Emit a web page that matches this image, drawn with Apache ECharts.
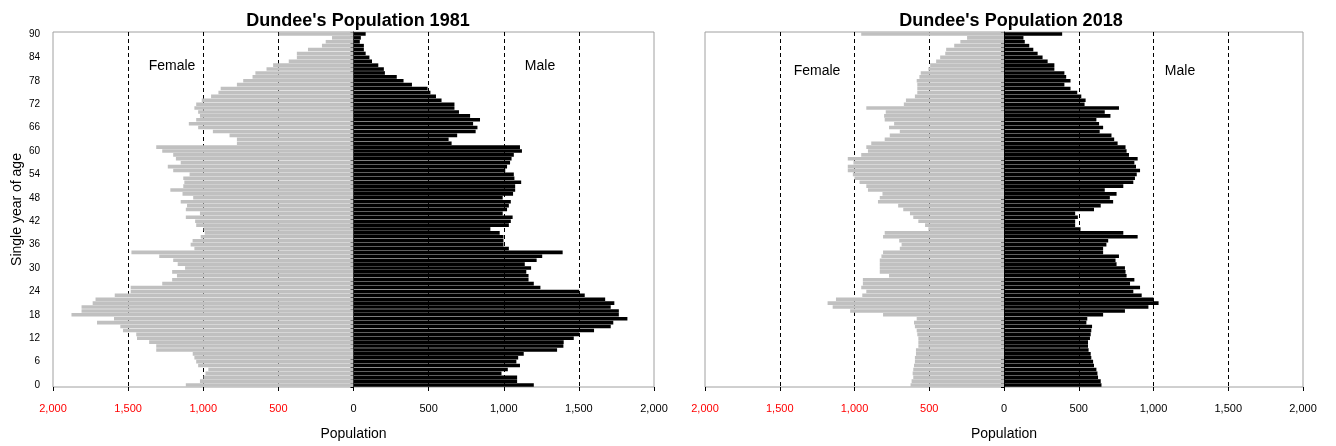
<!DOCTYPE html>
<html>
<head>
<meta charset="utf-8">
<title>Dundee's Population</title>
<script src="https://cdn.jsdelivr.net/npm/echarts@6/dist/echarts.min.js"></script>
<style>
  html, body { margin: 0; padding: 0; background: #fff; }
  #chart { width: 1336px; height: 446px; }
</style>
</head>
<body>
<div id="chart"></div>
<script>
// ages 0..90 (90 = 90 and over)
var ages = []
for (var a = 0; a <= 90; a++) ages.push(String(a))

var female1981 = [
  1116, 1022, 998, 985, 966, 1034, 1047, 1059, 1070, 1313,
  1313, 1360, 1441, 1446, 1534, 1552, 1707, 1594, 1877, 1810,
  1810, 1736, 1717, 1589, 1483, 1483, 1273, 1207, 1175, 1207,
  1121, 1170, 1200, 1293, 1478, 1059, 1084, 1071, 1017, 990,
  998, 1047, 1054, 1116, 1022, 1116, 1108, 1150, 1067, 1138,
  1219, 1133, 1126, 1133, 1091, 1200, 1236, 1150, 1182, 1200,
  1273, 1313, 776, 776, 825, 936, 1034, 1096, 1047, 1022,
  1034, 1059, 1047, 1010, 948, 899, 884, 776, 734, 672,
  653, 579, 535, 431, 377, 377, 303, 210, 185, 143,
  497
]
var male1981 = [
  1200, 1089, 1089, 985, 1027, 1108, 1084, 1096, 1133, 1355,
  1397, 1399, 1466, 1502, 1601, 1712, 1729, 1823, 1766, 1766,
  1712, 1736, 1675, 1539, 1502, 1244, 1200, 1165, 1165, 1150,
  1182, 1140, 1219, 1256, 1392, 1034, 998, 998, 998, 973,
  911, 1034, 1047, 1059, 993, 1022, 1034, 1047, 993, 1062,
  1076, 1076, 1116, 1071, 1067, 1010, 1022, 1042, 1052, 1067,
  1121, 1108, 653, 633, 690, 813, 825, 796, 842, 776,
  702, 672, 672, 586, 549, 512, 493, 389, 333, 288,
  209, 202, 165, 123, 106, 81, 69, 69, 42, 49,
  81
]
var female2018 = [
  625, 618, 607, 611, 607, 602, 596, 596, 589, 589,
  573, 573, 573, 580, 584, 596, 602, 584, 809, 1029,
  1146, 1180, 1124, 948, 921, 955, 944, 944, 769, 831,
  831, 831, 831, 820, 809, 697, 685, 701, 809, 798,
  506, 528, 573, 607, 629, 674, 708, 843, 831, 813,
  910, 921, 966, 1000, 1011, 1045, 1045, 1007, 1045, 955,
  910, 921, 888, 798, 764, 697, 769, 735, 798, 802,
  791, 921, 670, 656, 596, 580, 580, 580, 584, 566,
  557, 506, 494, 454, 427, 393, 387, 333, 292, 247,
  955
]
var male2018 = [
  652, 647, 629, 625, 618, 602, 596, 584, 580, 566,
  562, 562, 575, 580, 584, 589, 551, 557, 663, 809,
  966, 1034, 1000, 921, 865, 910, 843, 872, 820, 813,
  809, 753, 746, 769, 663, 663, 685, 697, 894, 798,
  512, 476, 476, 494, 476, 602, 647, 730, 708, 753,
  674, 798, 865, 876, 888, 910, 883, 872, 894, 836,
  820, 813, 760, 737, 719, 640, 663, 636, 618, 712,
  674, 769, 539, 546, 517, 490, 445, 404, 445, 416,
  404, 337, 337, 292, 258, 225, 196, 169, 139, 130,
  389
]

var FONT = 'Liberation Sans, Arial, sans-serif'

function negate(arr) {
  return arr.map(function (v) { return -v })
}

function popLabel(v) {
  var s = Math.abs(v).toLocaleString('en-US')
  return v < 0 ? '{r|' + s + '}' : s
}

function makeXAxis(idx) {
  return {
    type: 'value',
    gridIndex: idx,
    min: -2000,
    max: 2000,
    interval: 500,
    name: 'Population',
    nameLocation: 'middle',
    nameGap: 40,
    nameTextStyle: { color: '#000', fontSize: 14, fontFamily: FONT },
    axisLine: { onZero: false, lineStyle: { color: '#000', width: 1 } },
    axisTick: { show: true, length: 4, lineStyle: { color: '#000' } },
    axisLabel: {
      formatter: popLabel,
      color: '#000',
      fontSize: 11,
      fontFamily: FONT,
      margin: 16,
      rich: { r: { color: '#ff0000', fontSize: 11, fontFamily: FONT } }
    },
    splitLine: {
      show: true,
      showMinLine: false,
      showMaxLine: false,
      lineStyle: { color: '#000', type: [4, 3], width: 1 }
    }
  }
}

function makeAgeAxis(idx, withLabels) {
  return {
    type: 'category',
    gridIndex: idx,
    data: ages,
    name: withLabels ? 'Single year of age' : '',
    nameLocation: 'middle',
    nameGap: 29,
    nameRotate: 90,
    nameTextStyle: { color: '#000', fontSize: 14, fontFamily: FONT },
    axisLine: { show: false, onZero: false },
    axisTick: { show: false },
    axisLabel: {
      show: withLabels,
      interval: 5,
      color: '#000',
      fontSize: 10,
      fontFamily: FONT,
      margin: 13
    }
  }
}

// axis line in the middle, at zero
function makeCentreAxis(idx) {
  return {
    type: 'category',
    gridIndex: idx,
    data: ages,
    position: 'left',
    axisLine: { show: true, onZero: true, lineStyle: { color: '#000', width: 1 } },
    axisTick: { show: true, interval: 0, length: 3, lineStyle: { color: '#000' } },
    axisLabel: { show: false },
    splitLine: { show: false }
  }
}

function barSeries(xIdx, yIdx, data, color) {
  return {
    type: 'bar',
    xAxisIndex: xIdx,
    yAxisIndex: yIdx,
    data: data,
    barWidth: '92%',
    barGap: '-100%',
    itemStyle: { color: color },
    silent: true
  }
}

function textItem(x, y, txt) {
  return {
    type: 'text',
    x: x,
    y: y,
    style: {
      text: txt,
      fill: '#000',
      font: '14px ' + FONT,
      align: 'center',
      verticalAlign: 'middle'
    }
  }
}

var chart = echarts.init(document.getElementById('chart'))

chart.setOption({
  animation: false,
  backgroundColor: '#fff',
  title: [
    {
      text: "Dundee's Population 1981",
      left: 353,
      top: 7,
      textAlign: 'center',
      textStyle: { color: '#000', fontSize: 18, fontWeight: 'bold', fontFamily: FONT }
    },
    {
      text: "Dundee's Population 2018",
      left: 1006,
      top: 7,
      textAlign: 'center',
      textStyle: { color: '#000', fontSize: 18, fontWeight: 'bold', fontFamily: FONT }
    }
  ],
  grid: [
    { left: 53, right: 682, top: 32, bottom: 58, show: true, borderColor: '#a0a0a0', borderWidth: 1 },
    { left: 705, right: 33, top: 32, bottom: 58, show: true, borderColor: '#a0a0a0', borderWidth: 1 }
  ],
  xAxis: [makeXAxis(0), makeXAxis(1)],
  yAxis: [
    makeAgeAxis(0, true),
    makeCentreAxis(0),
    makeAgeAxis(1, false),
    makeCentreAxis(1)
  ],
  series: [
    barSeries(0, 0, negate(female1981), '#c0c0c0'),
    barSeries(0, 0, male1981, '#000000'),
    barSeries(1, 2, negate(female2018), '#c0c0c0'),
    barSeries(1, 2, male2018, '#000000')
  ],
  graphic: [
    textItem(172, 66, 'Female'),
    textItem(540, 66, 'Male'),
    textItem(817, 71, 'Female'),
    textItem(1180, 71, 'Male')
  ]
})
</script>
</body>
</html>
